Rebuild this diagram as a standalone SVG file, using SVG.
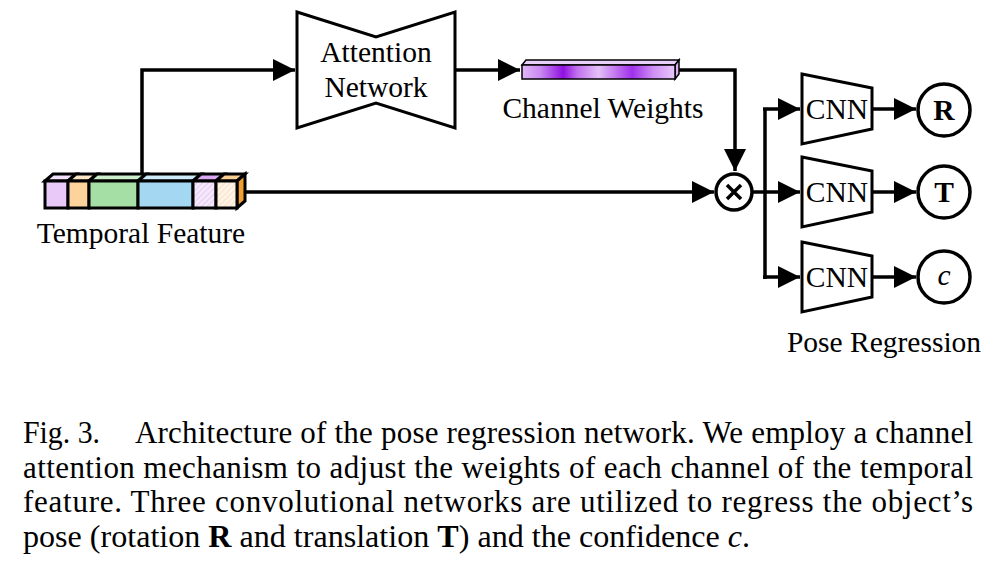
<svg xmlns="http://www.w3.org/2000/svg" width="1001" height="567" viewBox="0 0 1001 567">
<defs>
<style>
.ln{fill:none;stroke:#000;stroke-width:3.5;}
.sh{stroke:#000;stroke-width:3;stroke-linejoin:miter;}
.t{font-family:"Liberation Serif","Times New Roman",serif;fill:#000;}
.lbl{font-size:29.5px;text-anchor:middle;}
.cap{font-size:31px;}
</style>
<marker id="ah" markerUnits="userSpaceOnUse" markerWidth="24" markerHeight="24" refX="22" refY="11" orient="auto" viewBox="0 0 24 24">
<path d="M0,0 L22,11 L0,22 z" fill="#000"/>
</marker>
<pattern id="hp" width="4" height="4" patternUnits="userSpaceOnUse" patternTransform="rotate(45)">
<rect width="4" height="4" fill="#f6e8fb"/>
<line x1="0" y1="0" x2="0" y2="4" stroke="#d9b8ee" stroke-width="1.2"/>
</pattern>
<pattern id="ho" width="4" height="4" patternUnits="userSpaceOnUse" patternTransform="rotate(45)">
<rect width="4" height="4" fill="#fdf3e6"/>
<line x1="0" y1="0" x2="0" y2="4" stroke="#f3d6ad" stroke-width="1.2"/>
</pattern>
<linearGradient id="cw" x1="0" y1="0" x2="1" y2="0">
<stop offset="0" stop-color="#e2b8f8"/>
<stop offset="0.12" stop-color="#c98af0"/>
<stop offset="0.27" stop-color="#8f10e0"/>
<stop offset="0.36" stop-color="#c070ee"/>
<stop offset="0.5" stop-color="#e4c0f8"/>
<stop offset="0.62" stop-color="#c070f0"/>
<stop offset="0.72" stop-color="#a030ea"/>
<stop offset="0.86" stop-color="#d090f4"/>
<stop offset="1" stop-color="#e8c8fa"/>
</linearGradient>
</defs>

<g id="connectors">
<polyline class="ln" points="142,174 142,70 295,70" marker-end="url(#ah)"/>
<line class="ln" x1="455" y1="70" x2="520" y2="70" marker-end="url(#ah)"/>
<polyline class="ln" points="679,70 735,70 735,171" marker-end="url(#ah)"/>
<line class="ln" x1="246" y1="192" x2="714" y2="192" marker-end="url(#ah)"/>
<line class="ln" x1="753" y1="192" x2="765" y2="192"/>
<line class="ln" x1="765" y1="108" x2="765" y2="279"/>
<polyline class="ln" points="763,109 765,109 800,109" marker-end="url(#ah)"/>
<line class="ln" x1="765" y1="192" x2="800" y2="192" marker-end="url(#ah)"/>
<polyline class="ln" points="763,277 765,277 800,277" marker-end="url(#ah)"/>
<line class="ln" x1="872" y1="109" x2="916" y2="109" marker-end="url(#ah)"/>
<line class="ln" x1="872" y1="192" x2="916" y2="192" marker-end="url(#ah)"/>
<line class="ln" x1="872" y1="277" x2="916" y2="277" marker-end="url(#ah)"/>
</g>

<g id="temporal-feature">
<polygon class="sh" points="45,181 53,174 76,174 68,181" fill="#f0e0fb"/>
<polygon class="sh" points="68,181 76,174 97,174 89,181" fill="#fde6c6"/>
<polygon class="sh" points="89,181 97,174 146,174 138,181" fill="#cdeecd"/>
<polygon class="sh" points="138,181 146,174 201,174 193,181" fill="#cdebf8"/>
<polygon class="sh" points="193,181 201,174 224,174 216,181" fill="#d9a8f0"/>
<polygon class="sh" points="216,181 224,174 245,174 237,181" fill="#f8cf92"/>
<polygon class="sh" points="237,181 245,174 245,201 237,208" fill="#f0a030"/>
<rect class="sh" x="45" y="181" width="23" height="27" fill="#e8c9f8"/>
<rect class="sh" x="68" y="181" width="21" height="27" fill="#fcd39a"/>
<rect class="sh" x="89" y="181" width="49" height="27" fill="#a6dfa6"/>
<rect class="sh" x="138" y="181" width="55" height="27" fill="#a4d8f2"/>
<rect class="sh" x="193" y="181" width="23" height="27" fill="url(#hp)"/>
<rect class="sh" x="216" y="181" width="21" height="27" fill="url(#ho)"/>
<text class="t lbl" x="141" y="243">Temporal Feature</text>
</g>

<g id="attention-network">
<polygon class="sh" points="297,12 376,37 455,12 455,128 376,103 297,128" fill="#fff" stroke-width="3.5"/>
<text class="t lbl" x="376" y="62">Attention</text>
<text class="t lbl" x="376" y="97">Network</text>
</g>

<g id="channel-weights">
<polygon points="522,65 526,60 679,60 675,65" fill="#e8d0f8" stroke="#000" stroke-width="1.5"/>
<polygon points="675,65 679,60 679,74 675,79" fill="#d8b0f0" stroke="#000" stroke-width="1.5"/>
<rect x="522" y="65" width="153" height="14" fill="url(#cw)" stroke="#000" stroke-width="1.5"/>
<text class="t lbl" x="603" y="118">Channel Weights</text>
</g>

<g id="multiply">
<circle cx="734" cy="192" r="18" fill="#fff" stroke="#000" stroke-width="3.5"/>
<path d="M727,185 L741,199 M741,185 L727,199" stroke="#000" stroke-width="3.5" fill="none"/>
</g>

<g id="cnn-r">
<polygon class="sh" points="802,74 872,88 872,129 802,144" fill="#fff" stroke-width="3.5"/>
<text class="t lbl" x="837" y="119">CNN</text>
</g>
<g id="cnn-t">
<polygon class="sh" points="802,157 872,171 872,212 802,227" fill="#fff" stroke-width="3.5"/>
<text class="t lbl" x="837" y="202">CNN</text>
</g>
<g id="cnn-c">
<polygon class="sh" points="802,242 872,256 872,297 802,312" fill="#fff" stroke-width="3.5"/>
<text class="t lbl" x="837" y="287">CNN</text>
</g>

<g id="out-r">
<circle cx="944" cy="110" r="26" fill="#fff" stroke="#000" stroke-width="3.5"/>
<text class="t lbl" x="944" y="120" font-weight="bold">R</text>
</g>
<g id="out-t">
<circle cx="944" cy="192" r="26" fill="#fff" stroke="#000" stroke-width="3.5"/>
<text class="t lbl" x="944" y="202" font-weight="bold">T</text>
</g>
<g id="out-c">
<circle cx="944" cy="277" r="26" fill="#fff" stroke="#000" stroke-width="3.5"/>
<text class="t lbl" x="944" y="285" font-style="italic">c</text>
</g>

<g id="pose-regression-label">
<text class="t lbl" x="884" y="352">Pose Regression</text>
</g>

<g id="caption">
<text class="t cap" x="23" y="443" textLength="77" lengthAdjust="spacingAndGlyphs">Fig. 3.</text>
<text class="t cap" x="135" y="443" textLength="838" lengthAdjust="spacing">Architecture of the pose regression network. We employ a channel</text>
<text class="t cap" x="23" y="478" textLength="950" lengthAdjust="spacing">attention mechanism to adjust the weights of each channel of the temporal</text>
<text class="t cap" x="23" y="512" textLength="950" lengthAdjust="spacing">feature. Three convolutional networks are utilized to regress the object’s</text>
<text class="t cap" x="23" y="547" textLength="727" lengthAdjust="spacingAndGlyphs">pose (rotation <tspan font-weight="bold">R</tspan> and translation <tspan font-weight="bold">T</tspan>) and the confidence <tspan font-style="italic">c</tspan>.</text>
</g>
</svg>
